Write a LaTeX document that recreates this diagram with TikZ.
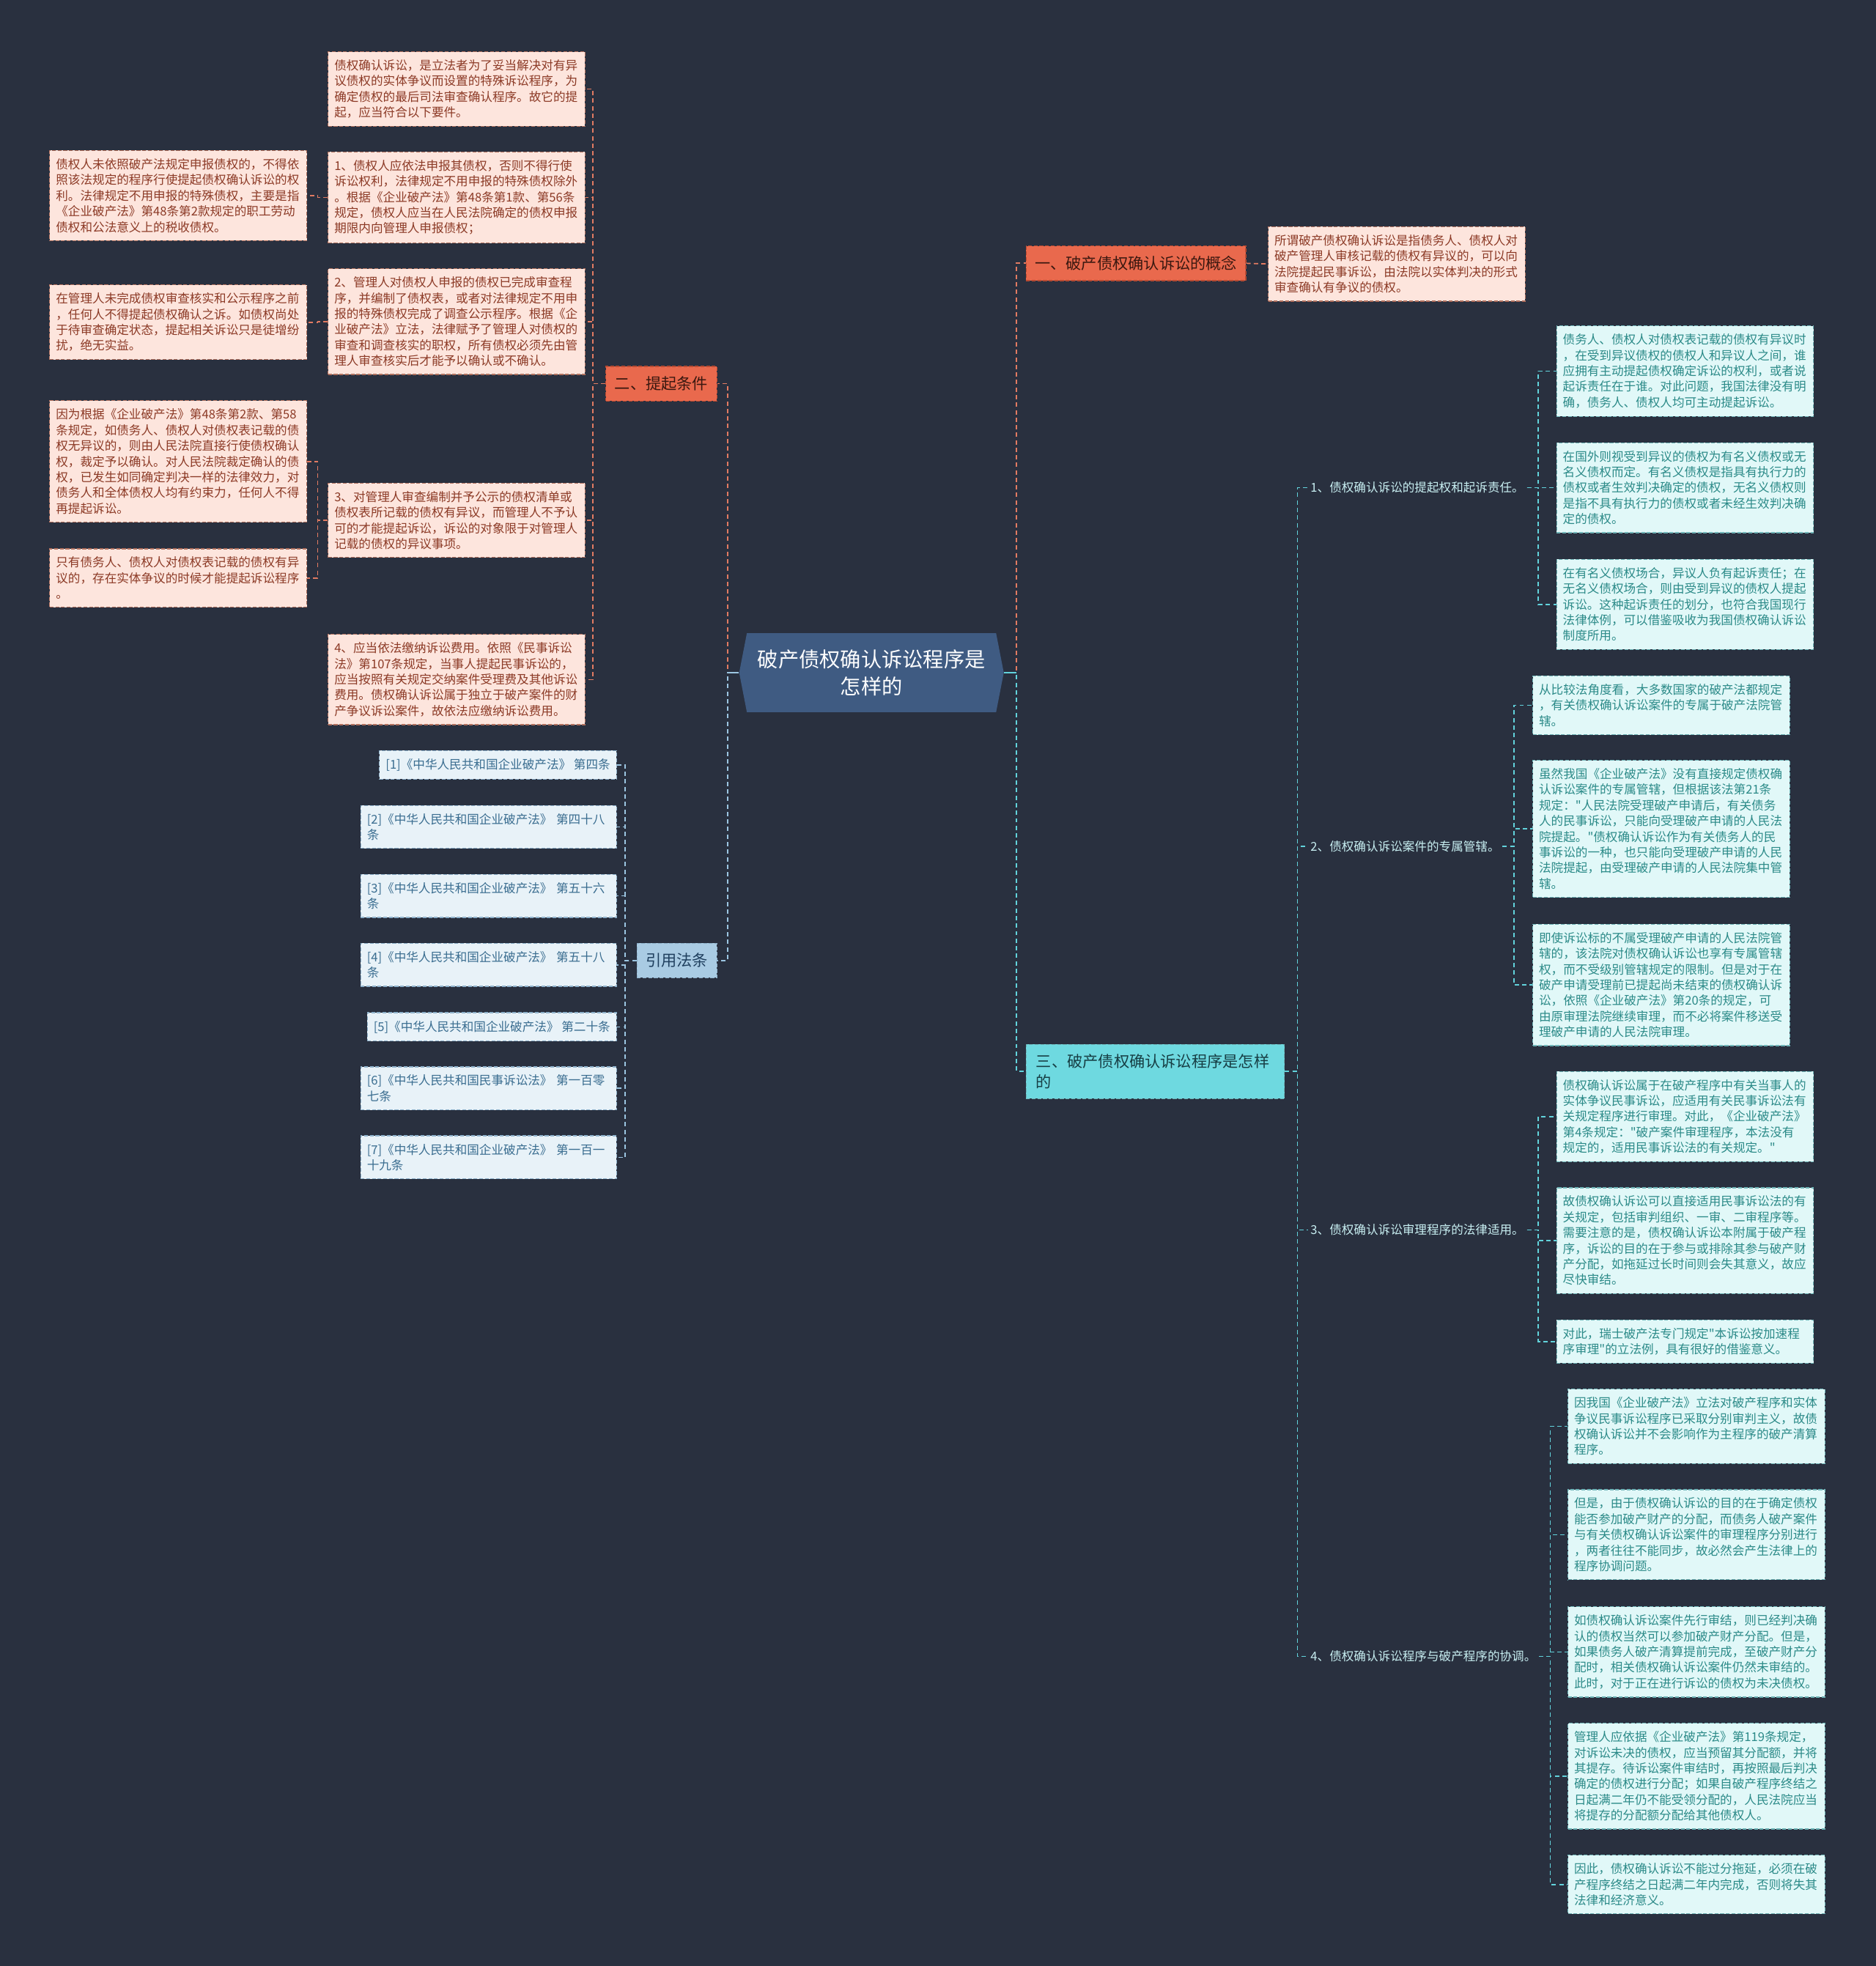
\documentclass[tikz,border=0pt]{standalone}
\usepackage{fontspec}
\setmainfont{Noto Sans CJK SC}[Ligatures=TeXOff]
\usetikzlibrary{shapes.symbols}
\definecolor{bgc}{HTML}{29303F}
\definecolor{rootc}{HTML}{3F5B82}
\definecolor{orgc}{HTML}{E9694D}
\definecolor{orgdraw}{HTML}{B84A32}
\definecolor{orgline}{HTML}{E27B62}
\definecolor{orgtext}{HTML}{3A1810}
\definecolor{pinkfill}{HTML}{FDE5DD}
\definecolor{pinkdraw}{HTML}{B0705E}
\definecolor{pinktext}{HTML}{8C3A26}
\definecolor{bluec}{HTML}{A9CBE3}
\definecolor{bluetext}{HTML}{1F3F5E}
\definecolor{bluefill}{HTML}{E8F2F8}
\definecolor{bluedraw}{HTML}{8FB2CC}
\definecolor{blueleaf}{HTML}{3A6D90}
\definecolor{blueline}{HTML}{9CC6E2}
\definecolor{cyanc}{HTML}{6ED9E0}
\definecolor{cyantext}{HTML}{173E44}
\definecolor{cyanfill}{HTML}{E1F8F8}
\definecolor{cyandraw}{HTML}{6FB5B8}
\definecolor{cyanleaf}{HTML}{2B8A88}
\definecolor{cyanline}{HTML}{62D3DC}
\definecolor{subtext}{HTML}{C8EFF2}

\begin{document}
\begin{tikzpicture}[x=1pt,y=-1pt,font=\fontsize{9.7}{12.5}\selectfont]
\tikzstyle{lf}=[draw,dash pattern=on 3pt off 1.5pt,line width=0.7pt,align=left,text width=195pt,inner xsep=5pt,inner ysep=6.4pt]
\tikzstyle{pk}=[lf,fill=pinkfill,draw=pinkdraw,text=pinktext]
\tikzstyle{cy}=[lf,fill=cyanfill,draw=cyandraw,text=cyanleaf,anchor=west]
\tikzstyle{rf}=[draw=bluedraw,fill=bluefill,text=blueleaf,dash pattern=on 3pt off 1.5pt,line width=0.7pt,align=left,inner xsep=5pt,inner ysep=6.4pt,anchor=east]
\tikzstyle{br}=[draw,dash pattern=on 3pt off 1.5pt,line width=0.7pt,font=\fontsize{12.4}{16}\selectfont,inner xsep=7pt,inner ysep=8pt]
\tikzstyle{sb}=[text=subtext,anchor=west,inner xsep=2pt]
\tikzstyle{lk}=[dash pattern=on 3.5pt off 2.5pt,line width=1pt]
\fill[bgc] (0,0) rectangle (1496,1568);
\useasboundingbox (0,0) rectangle (1496,1568);

\node[signal,signal to=east and west,signal pointer angle=158,fill=rootc,text=white,minimum width=211pt,minimum height=63pt,align=center,font=\fontsize{16.5}{22}\selectfont] (root) at (695,536.5) {破产债权确认诉讼程序是\\怎样的};

% branches
\node[br,fill=orgc,draw=orgdraw,text=orgtext,anchor=west] (n1) at (818,210) {一、破产债权确认诉讼的概念};
\node[br,fill=orgc,draw=orgdraw,text=orgtext,anchor=east] (n2) at (572,306) {二、提起条件};
\node[br,fill=cyanc,draw=cyandraw,text=cyantext,anchor=west,text width=190pt,align=left,inner xsep=8pt] (n3) at (818,854.5) {三、破产债权确认诉讼程序是怎样\\的};
\node[br,fill=bluec,draw=bluedraw,text=bluetext,anchor=east] (n4) at (572,766) {引用法条};

\node[pk,anchor=west] (def) at (1011,210.5) {所谓破产债权确认诉讼是指债务人、债权人对\\破产管理人审核记载的债权有异议的，可以向\\法院提起民事诉讼，由法院以实体判决的形式\\审查确认有争议的债权。};

% 二
\node[pk,anchor=east] (c0) at (467,71) {债权确认诉讼，是立法者为了妥当解决对有异\\议债权的实体争议而设置的特殊诉讼程序，为\\确定债权的最后司法审查确认程序。故它的提\\起，应当符合以下要件。};
\node[pk,anchor=east] (c1) at (467,157.5) {1、债权人应依法申报其债权，否则不得行使\\诉讼权利，法律规定不用申报的特殊债权除外\\。根据《企业破产法》第48条第1款、第56条\\规定，债权人应当在人民法院确定的债权申报\\期限内向管理人申报债权；};
\node[pk,anchor=east] (c2) at (467,256.5) {2、管理人对债权人申报的债权已完成审查程\\序，并编制了债权表，或者对法律规定不用申\\报的特殊债权完成了调查公示程序。根据《企\\业破产法》立法，法律赋予了管理人对债权的\\审查和调查核实的职权，所有债权必须先由管\\理人审查核实后才能予以确认或不确认。};
\node[pk,anchor=east] (c3) at (467,415) {3、对管理人审查编制并予公示的债权清单或\\债权表所记载的债权有异议，而管理人不予认\\可的才能提起诉讼，诉讼的对象限于对管理人\\记载的债权的异议事项。};
\node[pk,anchor=east] (c4) at (467,542) {4、应当依法缴纳诉讼费用。依照《民事诉讼\\法》第107条规定，当事人提起民事诉讼的，\\应当按照有关规定交纳案件受理费及其他诉讼\\费用。债权确认诉讼属于独立于破产案件的财\\产争议诉讼案件，故依法应缴纳诉讼费用。};
\node[pk,anchor=east] (c1a) at (245,156) {债权人未依照破产法规定申报债权的，不得依\\照该法规定的程序行使提起债权确认诉讼的权\\利。法律规定不用申报的特殊债权，主要是指\\《企业破产法》第48条第2款规定的职工劳动\\债权和公法意义上的税收债权。};
\node[pk,anchor=east] (c2a) at (245,257) {在管理人未完成债权审查核实和公示程序之前\\，任何人不得提起债权确认之诉。如债权尚处\\于待审查确定状态，提起相关诉讼只是徒增纷\\扰，绝无实益。};
\node[pk,anchor=east] (c3a) at (245,368) {因为根据《企业破产法》第48条第2款、第58\\条规定，如债务人、债权人对债权表记载的债\\权无异议的，则由人民法院直接行使债权确认\\权，裁定予以确认。对人民法院裁定确认的债\\权，已发生如同确定判决一样的法律效力，对\\债务人和全体债权人均有约束力，任何人不得\\再提起诉讼。};
\node[pk,anchor=east] (c3b) at (245,461) {只有债务人、债权人对债权表记载的债权有异\\议的，存在实体争议的时候才能提起诉讼程序\\。};

% 引用法条
\node[rf] (r1) at (492,610) {[1]《中华人民共和国企业破产法》 第四条};
\node[rf,text width=194pt] (r2) at (492,659.5) {[2]《中华人民共和国企业破产法》 第四十八\\条};
\node[rf,text width=194pt] (r3) at (492,714.5) {[3]《中华人民共和国企业破产法》 第五十六\\条};
\node[rf,text width=194pt] (r4) at (492,769.5) {[4]《中华人民共和国企业破产法》 第五十八\\条};
\node[rf] (r5) at (492,819) {[5]《中华人民共和国企业破产法》 第二十条};
\node[rf,text width=194pt] (r6) at (492,868) {[6]《中华人民共和国民事诉讼法》 第一百零\\七条};
\node[rf,text width=194pt] (r7) at (492,923) {[7]《中华人民共和国企业破产法》 第一百一\\十九条};

% 三
\node[sb] (s1) at (1043,389) {1、债权确认诉讼的提起权和起诉责任。};
\node[sb] (s2) at (1043,675) {2、债权确认诉讼案件的专属管辖。};
\node[sb] (s3) at (1043,981) {3、债权确认诉讼审理程序的法律适用。};
\node[sb] (s4) at (1043,1321) {4、债权确认诉讼程序与破产程序的协调。};

\node[cy] (t11) at (1241,296) {债务人、债权人对债权表记载的债权有异议时\\，在受到异议债权的债权人和异议人之间，谁\\应拥有主动提起债权确定诉讼的权利，或者说\\起诉责任在于谁。对此问题，我国法律没有明\\确，债务人、债权人均可主动提起诉讼。};
\node[cy] (t12) at (1241,389) {在国外则视受到异议的债权为有名义债权或无\\名义债权而定。有名义债权是指具有执行力的\\债权或者生效判决确定的债权，无名义债权则\\是指不具有执行力的债权或者未经生效判决确\\定的债权。};
\node[cy] (t13) at (1241,482) {在有名义债权场合，异议人负有起诉责任；在\\无名义债权场合，则由受到异议的债权人提起\\诉讼。这种起诉责任的划分，也符合我国现行\\法律体例，可以借鉴吸收为我国债权确认诉讼\\制度所用。};
\node[cy] (t21) at (1222,562.5) {从比较法角度看，大多数国家的破产法都规定\\，有关债权确认诉讼案件的专属于破产法院管\\辖。};
\node[cy] (t22) at (1222,661) {虽然我国《企业破产法》没有直接规定债权确\\认诉讼案件的专属管辖，但根据该法第21条\\规定："人民法院受理破产申请后，有关债务\\人的民事诉讼，只能向受理破产申请的人民法\\院提起。"债权确认诉讼作为有关债务人的民\\事诉讼的一种，也只能向受理破产申请的人民\\法院提起，由受理破产申请的人民法院集中管\\辖。};
\node[cy] (t23) at (1222,785.5) {即使诉讼标的不属受理破产申请的人民法院管\\辖的，该法院对债权确认诉讼也享有专属管辖\\权，而不受级别管辖规定的限制。但是对于在\\破产申请受理前已提起尚未结束的债权确认诉\\讼，依照《企业破产法》第20条的规定，可\\由原审理法院继续审理，而不必将案件移送受\\理破产申请的人民法院审理。};
\node[cy] (t31) at (1241,890.5) {债权确认诉讼属于在破产程序中有关当事人的\\实体争议民事诉讼，应适用有关民事诉讼法有\\关规定程序进行审理。对此，《企业破产法》\\第4条规定："破产案件审理程序，本法没有\\规定的，适用民事诉讼法的有关规定。"};
\node[cy] (t32) at (1241,989.5) {故债权确认诉讼可以直接适用民事诉讼法的有\\关规定，包括审判组织、一审、二审程序等。\\需要注意的是，债权确认诉讼本附属于破产程\\序，诉讼的目的在于参与或排除其参与破产财\\产分配，如拖延过长时间则会失其意义，故应\\尽快审结。};
\node[cy] (t33) at (1241,1070) {对此，瑞士破产法专门规定"本诉讼按加速程\\序审理"的立法例，具有很好的借鉴意义。};
\node[cy] (t41) at (1250,1137.5) {因我国《企业破产法》立法对破产程序和实体\\争议民事诉讼程序已采取分别审判主义，故债\\权确认诉讼并不会影响作为主程序的破产清算\\程序。};
\node[cy] (t42) at (1250,1224) {但是，由于债权确认诉讼的目的在于确定债权\\能否参加破产财产的分配，而债务人破产案件\\与有关债权确认诉讼案件的审理程序分别进行\\，两者往往不能同步，故必然会产生法律上的\\程序协调问题。};
\node[cy] (t43) at (1250,1317.5) {如债权确认诉讼案件先行审结，则已经判决确\\认的债权当然可以参加破产财产分配。但是，\\如果债务人破产清算提前完成，至破产财产分\\配时，相关债权确认诉讼案件仍然未审结的。\\此时，对于正在进行诉讼的债权为未决债权。};
\node[cy] (t44) at (1250,1416.5) {管理人应依据《企业破产法》第119条规定，\\对诉讼未决的债权，应当预留其分配额，并将\\其提存。待诉讼案件审结时，再按照最后判决\\确定的债权进行分配；如果自破产程序终结之\\日起满二年仍不能受领分配的，人民法院应当\\将提存的分配额分配给其他债权人。};
\node[cy] (t45) at (1250,1503) {因此，债权确认诉讼不能过分拖延，必须在破\\产程序终结之日起满二年内完成，否则将失其\\法律和经济意义。};

% connectors
\draw[lk,orgline] (root.east) -- ++(10,0) |- (n1.west);
\draw[lk,cyanline] (root.east) -- ++(10,0) |- (n3.west);
\draw[lk,orgline] (root.west) -- ++(-9,0) |- (n2.east);
\draw[lk,blueline] (root.west) -- ++(-9,0) |- (n4.east);
\draw[line width=1.2pt,cyanline] (root.east) -- ++(10,0);
\draw[line width=1.2pt,blueline] (root.west) -- ++(-9,0);
\draw[lk,orgline] (n1.east) -- (def.west);
\foreach \c in {c0,c1,c2,c3,c4} \draw[lk,orgline] (n2.west) -- ++(-10,0) |- (\c.east);
\draw[lk,orgline] (c1.west) -- ++(-8,0) |- (c1a.east);
\draw[lk,orgline] (c2.west) -- ++(-8,0) |- (c2a.east);
\foreach \c in {c3a,c3b} \draw[lk,orgline] (c3.west) -- ++(-8,0) |- (\c.east);
\foreach \r in {r1,r2,r3,r4,r5,r6,r7} \draw[lk,blueline] (n4.west) -- ++(-9,0) |- (\r.east);
\foreach \s in {s1,s2,s3,s4} \draw[lk,cyanline] (n3.east) -- ++(10,0) |- (\s.west);
\foreach \t in {t11,t12,t13} \draw[lk,cyanline] (s1.east) -- ++(9,0) |- (\t.west);
\foreach \t in {t21,t22,t23} \draw[lk,cyanline] (s2.east) -- ++(9,0) |- (\t.west);
\foreach \t in {t31,t32,t33} \draw[lk,cyanline] (s3.east) -- ++(9,0) |- (\t.west);
\foreach \t in {t41,t42,t43,t44,t45} \draw[lk,cyanline] (s4.east) -- ++(9,0) |- (\t.west);
\end{tikzpicture}
\end{document}
